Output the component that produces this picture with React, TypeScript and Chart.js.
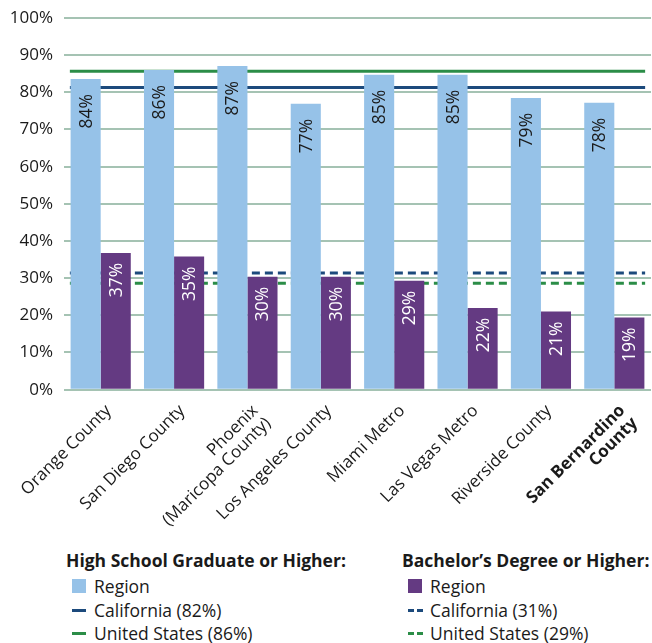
import React, { useEffect, useRef } from 'react';
import { Chart, registerables } from 'chart.js';

Chart.register(...registerables);

// ---- data ----
const categories: (string | string[])[] = [
  'Orange County',
  'San Diego County',
  ['Phoenix', '(Maricopa County)'],
  'Los Angeles County',
  'Miami Metro',
  'Las Vegas Metro',
  'Riverside County',
  ['San Bernardino', 'County'],
];
const highSchoolRegion = [83.6, 86.0, 87.1, 76.9, 84.7, 84.7, 78.5, 77.2];
const highSchoolLabels = ['84%', '86%', '87%', '77%', '85%', '85%', '79%', '78%'];
const bachelorRegion = [36.8, 35.8, 30.4, 30.4, 29.3, 22.0, 21.0, 19.4];
const bachelorLabels = ['37%', '35%', '30%', '30%', '29%', '22%', '21%', '19%'];
const californiaHighSchool = 81.3;
const unitedStatesHighSchool = 85.7;
const californiaBachelor = 31.4;
const unitedStatesBachelor = 28.6;
const yTickValues = [0, 10, 20, 30, 40, 50, 60, 70, 80, 90, 100];
const boldCategoryIndex = 7;

const LIGHT_BLUE = '#96c2e8';
const PURPLE = '#643a82';
const NAVY = '#1c4a7c';
const GREEN = '#2b8d47';
const TEXT = '#1a1a1a';
const FONT = '"Open Sans", "Noto Sans", sans-serif';

const referenceLines: { value: number; color: string; dashed: boolean }[] = [
  { value: californiaHighSchool, color: NAVY, dashed: false },
  { value: unitedStatesHighSchool, color: GREEN, dashed: false },
  { value: californiaBachelor, color: NAVY, dashed: true },
  { value: unitedStatesBachelor, color: GREEN, dashed: true },
];

const referenceLinePlugin = {
  id: 'referenceLines',
  beforeDatasetsDraw(chart: any) {
    const { ctx, chartArea, scales } = chart;
    const w = chartArea.right - chartArea.left;
    const x0 = chartArea.left + w * 0.01;
    const x1 = chartArea.left + w * 0.99;
    referenceLines.forEach((l) => {
      const y = scales.y.getPixelForValue(l.value);
      ctx.save();
      ctx.strokeStyle = l.color;
      ctx.lineWidth = 3;
      ctx.setLineDash(l.dashed ? [8, 5] : []);
      ctx.beginPath();
      ctx.moveTo(x0, y);
      ctx.lineTo(x1, y);
      ctx.stroke();
      ctx.restore();
    });
  },
};

const barLabelPlugin = {
  id: 'barLabels',
  afterDatasetsDraw(chart: any) {
    const ctx = chart.ctx;
    const specs: [number, string[], string, number][] = [
      [0, highSchoolLabels, TEXT, 15],
      [1, bachelorLabels, '#ffffff', 10],
    ];
    specs.forEach(([di, labels, color, off]) => {
      const meta = chart.getDatasetMeta(di);
      meta.data.forEach((bar: any, i: number) => {
        ctx.save();
        ctx.translate(bar.x + 1, bar.y + off);
        ctx.rotate(-Math.PI / 2);
        ctx.font = `17.5px ${FONT}`;
        ctx.fillStyle = color;
        ctx.textAlign = 'right';
        ctx.textBaseline = 'middle';
        ctx.fillText(labels[i], 0, 0);
        ctx.restore();
      });
    });
  },
};

const legendRow: React.CSSProperties = {
  position: 'absolute',
  height: 24,
  display: 'flex',
  alignItems: 'center',
  font: `17.5px ${FONT}`,
  color: TEXT,
  whiteSpace: 'nowrap',
};

function Marker({ kind, color }: { kind: 'box' | 'solid' | 'dash'; color: string }) {
  if (kind === 'box') {
    return <span style={{ display: 'inline-block', width: 14, height: 14, background: color }} />;
  }
  if (kind === 'solid') {
    return <span style={{ display: 'inline-block', width: 14, height: 3, background: color }} />;
  }
  return (
    <span style={{ display: 'inline-flex', width: 15, justifyContent: 'space-between' }}>
      <span style={{ display: 'inline-block', width: 6, height: 3, background: color }} />
      <span style={{ display: 'inline-block', width: 6, height: 3, background: color }} />
    </span>
  );
}

function LegendColumn({
  left,
  title,
  items,
}: {
  left: number;
  title: string;
  items: { kind: 'box' | 'solid' | 'dash'; color: string; label: string }[];
}) {
  const centers = [586, 610, 633];
  return (
    <>
      <div style={{ ...legendRow, left, top: 560 - 12, fontWeight: 'bold' }}>{title}</div>
      {items.map((it, i) => (
        <div key={i} style={{ ...legendRow, left: left + 6, top: centers[i] - 12 }}>
          <span style={{ width: 22, display: 'inline-flex', alignItems: 'center' }}>
            <Marker kind={it.kind} color={it.color} />
          </span>
          <span>{it.label}</span>
        </div>
      ))}
    </>
  );
}

export default function App() {
  const canvasRef = useRef<HTMLCanvasElement | null>(null);

  useEffect(() => {
    if (!canvasRef.current) return;
    const chart = new Chart(canvasRef.current, {
      type: 'bar',
      data: {
        labels: categories as any,
        datasets: [
          {
            label: 'High School Region',
            data: highSchoolRegion,
            backgroundColor: LIGHT_BLUE,
            categoryPercentage: 0.82,
            barPercentage: 1.0,
          },
          {
            label: 'Bachelor Region',
            data: bachelorRegion,
            backgroundColor: PURPLE,
            categoryPercentage: 0.82,
            barPercentage: 1.0,
          },
        ],
      },
      options: {
        responsive: false,
        animation: false,
        layout: { padding: { top: 18, left: 8, right: 1, bottom: 0 } },
        plugins: {
          legend: { display: false },
          tooltip: { enabled: false },
        },
        scales: {
          x: {
            grid: { display: false },
            border: { display: false },
            afterFit: (scale: any) => {
              scale.paddingLeft = 0;
            },
            ticks: {
              autoSkip: false,
              maxRotation: 45,
              minRotation: 45,
              padding: 4,
              labelOffset: 8,
              color: TEXT,
              font: (c: any) => ({
                family: FONT,
                size: 17,
                weight: c.index === boldCategoryIndex ? 'bold' : 'normal',
                lineHeight: 1.05,
              }),
            },
          },
          y: {
            min: 0,
            max: 100,
            z: 1,
            afterBuildTicks: (axis: any) => {
              axis.ticks = yTickValues.map((v) => ({ value: v }));
            },
            afterFit: (scale: any) => {
              scale.width = 56;
              scale.paddingTop = 0;
            },
            grid: {
              color: 'rgba(105,155,128,0.6)',
              lineWidth: 2,
              drawTicks: false,
            },
            border: { display: false },
            ticks: {
              padding: 11,
              color: TEXT,
              font: { family: FONT, size: 17 },
              callback: (v: any) => `${v}%`,
            },
          },
        },
      },
      plugins: [referenceLinePlugin, barLabelPlugin],
    });
    return () => chart.destroy();
  }, []);

  return (
    <div
      style={{
        position: 'fixed',
        left: 0,
        top: 0,
        width: 652,
        height: 643,
        background: '#ffffff',
        overflow: 'hidden',
      }}
    >
      <canvas ref={canvasRef} width={652} height={540} style={{ display: 'block' }} />
      <LegendColumn
        left={66}
        title="High School Graduate or Higher:"
        items={[
          { kind: 'box', color: LIGHT_BLUE, label: 'Region' },
          { kind: 'solid', color: NAVY, label: 'California (82%)' },
          { kind: 'solid', color: GREEN, label: 'United States (86%)' },
        ]}
      />
      <LegendColumn
        left={402}
        title="Bachelor’s Degree or Higher:"
        items={[
          { kind: 'box', color: PURPLE, label: 'Region' },
          { kind: 'dash', color: NAVY, label: 'California (31%)' },
          { kind: 'dash', color: GREEN, label: 'United States (29%)' },
        ]}
      />
    </div>
  );
}
